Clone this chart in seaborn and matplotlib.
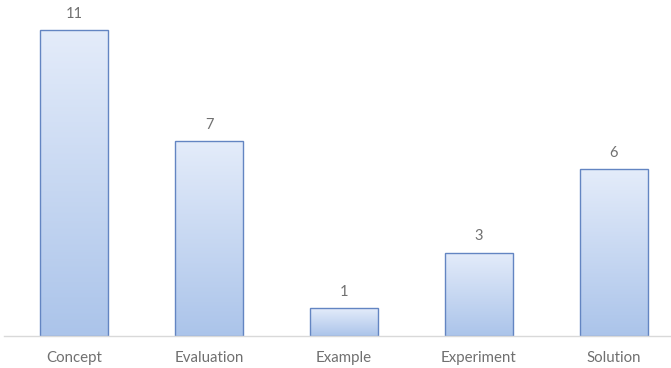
import numpy as np
import pandas as pd
import matplotlib
matplotlib.use("Agg")
import matplotlib.pyplot as plt
from matplotlib.colors import LinearSegmentedColormap
import seaborn as sns

categories = ["Concept", "Evaluation", "Example", "Experiment", "Solution"]
counts = [11, 7, 1, 3, 6]

sns.set_style("white")
plt.rcParams["font.family"] = ["Lato", "DejaVu Sans"]

W, H = 671, 368
fig = plt.figure(figsize=(W / 100, H / 100), dpi=100)

# axes spans the full width; baseline sits 32 px above the bottom edge
base_px = 32
unit_px = 27.8
ax = fig.add_axes([4 / W, base_px / H, (W - 4) / W, (H - base_px) / H])

df = pd.DataFrame({"category": categories, "count": counts})
sns.barplot(data=df, x="category", y="count", ax=ax, width=0.5,
            color="white", edgecolor="#6385c2", linewidth=1.0, saturation=1)

step = 135.0
ax.set_xlim((4 - 74) / step, (671 - 74) / step)
ax.set_ylim(0, (H - base_px) / unit_px)

# vertical gradient fill inside each bar, light at top, deeper blue at bottom
grad = LinearSegmentedColormap.from_list("bar_grad", ["#abc4ea", "#e4ecfa"])
g = np.linspace(0, 1, 256).reshape(-1, 1)
for patch in ax.patches:
    x0, y0 = patch.get_x(), patch.get_y()
    w, h = patch.get_width(), patch.get_height()
    patch.set_facecolor("none")
    im = ax.imshow(g, cmap=grad, origin="lower", aspect="auto",
                   extent=[x0, x0 + w, y0, y0 + h], zorder=patch.get_zorder() - 0.1,
                   interpolation="bicubic")
    im.set_clip_path(patch)
    ax.text(x0 + w / 2, h + 0.33, f"{int(h)}", ha="center", va="bottom",
            fontsize=10.5, color="#707070")

sns.despine(ax=ax, left=True, top=True, right=True)
ax.spines["bottom"].set_color("#d9d9d9")
ax.spines["bottom"].set_linewidth(1.0)
ax.set_yticks([])
ax.set_xlabel("")
ax.set_ylabel("")
ax.tick_params(axis="x", length=0, pad=11, labelsize=10.8, labelcolor="#707070")

fig.savefig("out.png", dpi=100)
